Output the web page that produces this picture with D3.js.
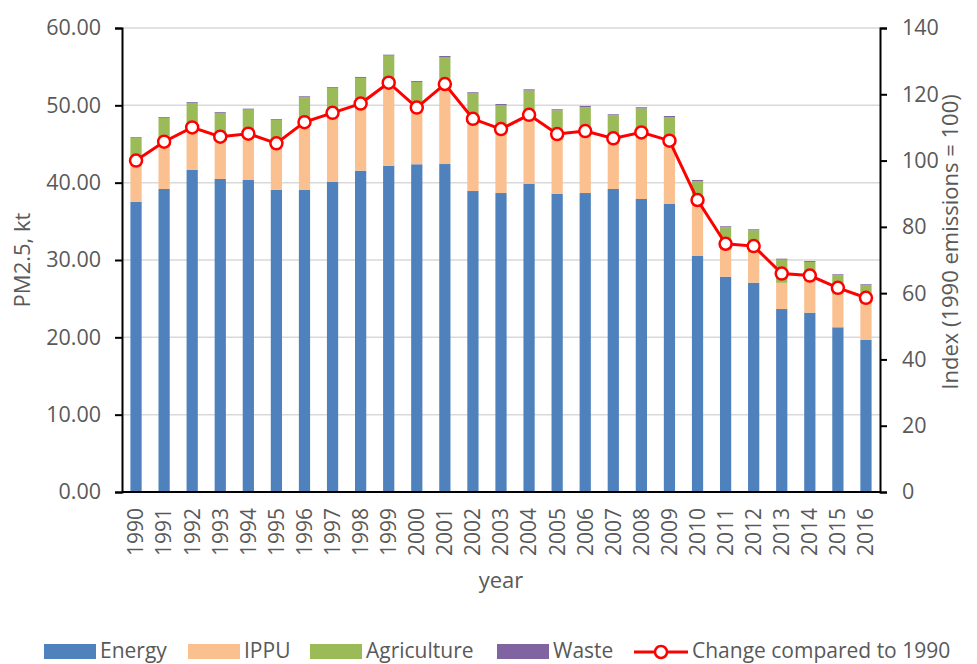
<!DOCTYPE html>
<html>
	<head>
		<title>PM2.5 emissions by sector</title>
		<style type="text/css">
			body{ margin: 0; background: #fff; }
			#chart text{ font-family: "Open Sans", sans-serif; fill: #595959; }
		</style>
	</head>
	<body>
		<div id="chart"></div>
	<script type="text/javascript" src="https://cdn.jsdelivr.net/npm/d3@7/dist/d3.min.js"></script>
	<script>
		var years = ['1990','1991','1992','1993','1994','1995','1996','1997','1998','1999','2000','2001','2002',
					'2003','2004','2005','2006','2007','2008','2009','2010','2011','2012','2013','2014','2015','2016'];

		var energy = [37.54, 39.18, 41.64, 40.48, 40.35, 39.09, 39.05, 40.09, 41.55, 42.20, 42.38, 42.41, 38.92,
					38.66, 39.87, 38.54, 38.66, 39.18, 37.89, 37.24, 30.52, 27.84, 27.07, 23.66, 23.19, 21.30, 19.66];
		var ippu = [5.03, 5.41, 5.19, 5.26, 5.60, 5.74, 8.60, 8.88, 8.80, 10.83, 7.55, 10.47, 9.32,
					8.36, 8.85, 7.82, 8.01, 6.63, 9.11, 8.75, 7.90, 3.50, 3.88, 3.39, 4.06, 4.23, 4.68];
		var agriculture = [3.2, 3.8, 3.5, 3.3, 3.5, 3.3, 3.4, 3.3, 3.2, 3.4, 3.1, 3.3, 3.3,
					3.0, 3.2, 3.0, 3.1, 2.9, 2.6, 2.5, 1.8, 2.9, 2.9, 3.0, 2.5, 2.5, 2.4];
		var waste = [0.10, 0.10, 0.10, 0.10, 0.12, 0.10, 0.12, 0.10, 0.12, 0.12, 0.12, 0.20, 0.15,
					0.15, 0.15, 0.13, 0.15, 0.13, 0.15, 0.13, 0.13, 0.12, 0.12, 0.12, 0.12, 0.12, 0.12];
		var change = [100, 105.7, 110.0, 107.2, 108.1, 105.2, 111.6, 114.4, 117.2, 123.5, 116.0, 123.1, 112.6,
					109.5, 113.8, 108.0, 108.9, 106.7, 108.5, 106.0, 88.1, 74.9, 74.2, 65.9, 65.3, 61.6, 58.6];

		var leftTicks = [0, 10, 20, 30, 40, 50, 60];
		var rightTicks = [0, 20, 40, 60, 80, 100, 120, 140];

		var series = [
			{ name : 'Energy', values : energy, color : '#4f81bd' },
			{ name : 'IPPU', values : ippu, color : '#fac090' },
			{ name : 'Agriculture', values : agriculture, color : '#9bbb59' },
			{ name : 'Waste', values : waste, color : '#8064a2' }
		];

		var W = 977, H = 664;
		var pLeft = 122, pRight = 880, pTop = 28, pBottom = 492;

		var svg = d3.select('#chart').append('svg')
				.attr('width', W).attr('height', H);

		var x = d3.scaleBand().domain(years).range([pLeft, pRight]).paddingInner(0.6).paddingOuter(0.3);
		var y = d3.scaleLinear().domain([0, 60]).range([pBottom, pTop]);
		var y2 = d3.scaleLinear().domain([0, 140]).range([pBottom, pTop]);

		// gridlines
		svg.append('g').selectAll('line')
			.data(leftTicks.slice(1))
			.enter().append('line')
			.attr('x1', pLeft).attr('x2', pRight)
			.attr('y1', function(d){ return y(d); })
			.attr('y2', function(d){ return y(d); })
			.style('stroke', '#d9d9d9')
			.style('stroke-width', 1.5);

		// stacked bars
		var rows = years.map(function(yr, i){
			var r = { year : yr };
			series.forEach(function(s){ r[s.name] = s.values[i]; });
			return r;
		});
		var stack = d3.stack().keys(series.map(function(s){ return s.name; }))(rows);

		svg.append('g').selectAll('g')
			.data(stack)
			.enter().append('g')
			.attr('fill', function(d, i){ return series[i].color; })
			.selectAll('rect')
			.data(function(d){ return d; })
			.enter().append('rect')
			.attr('x', function(d){ return x(d.data.year); })
			.attr('width', x.bandwidth())
			.attr('y', function(d){ return y(d[1]); })
			.attr('height', function(d){ return y(d[0]) - y(d[1]); });

		// left axis
		var ax = svg.append('g').attr('transform', 'translate(' + pLeft + ',0)')
			.call(d3.axisLeft(y).tickValues(leftTicks).tickFormat(d3.format('.2f')).tickSize(7).tickPadding(14));
		ax.select('.domain').style('stroke', '#000').style('stroke-width', 2);
		ax.selectAll('.tick line').style('stroke', '#000').style('stroke-width', 2);
		ax.selectAll('text').style('font-size', '21.5px').attr('fill', null);

		// right axis
		var ax2 = svg.append('g').attr('transform', 'translate(' + pRight + ',0)')
			.call(d3.axisRight(y2).tickValues(rightTicks).tickSize(7).tickPadding(15));
		ax2.select('.domain').style('stroke', '#000').style('stroke-width', 2);
		ax2.selectAll('.tick line').style('stroke', '#000').style('stroke-width', 2);
		ax2.selectAll('text').style('font-size', '21.5px').attr('fill', null);

		// bottom axis
		var ax3 = svg.append('g').attr('transform', 'translate(0,' + pBottom + ')')
			.call(d3.axisBottom(x).tickSize(0).tickPadding(0));
		ax3.select('.domain').attr('d', 'M' + pLeft + ',0H' + pRight).style('stroke', '#000').style('stroke-width', 2);
		ax3.selectAll('text')
			.attr('transform', 'rotate(-90)')
			.attr('x', -64).attr('y', 0).attr('dy', '0.35em')
			.style('text-anchor', 'start')
			.style('font-size', '21px').attr('fill', null);

		// index line
		var line = d3.line()
			.x(function(d, i){ return x(years[i]) + x.bandwidth() / 2; })
			.y(function(d){ return y2(d); });

		svg.append('path')
			.datum(change)
			.attr('d', line)
			.style('fill', 'none')
			.style('stroke', '#ff0000')
			.style('stroke-width', 3);

		svg.append('g').selectAll('circle')
			.data(change)
			.enter().append('circle')
			.attr('cx', function(d, i){ return x(years[i]) + x.bandwidth() / 2; })
			.attr('cy', function(d){ return y2(d); })
			.attr('r', 6)
			.style('fill', '#fff')
			.style('stroke', '#ff0000')
			.style('stroke-width', 2.5);

		// axis titles
		svg.append('text')
			.attr('transform', 'translate(30,' + ((pTop + pBottom) / 2) + ') rotate(-90)')
			.style('text-anchor', 'middle').style('font-size', '22px')
			.text('PM2.5, kt');
		svg.append('text')
			.attr('transform', 'translate(958,242) rotate(-90)')
			.style('text-anchor', 'middle').style('font-size', '22px')
			.text('Index (1990 emissions = 100)');
		svg.append('text')
			.attr('x', (pLeft + pRight) / 2).attr('y', 588)
			.style('text-anchor', 'middle').style('font-size', '22px')
			.text('year');

		// legend
		var legX = [44, 188, 310, 497];
		var lg = svg.append('g');
		series.forEach(function(s, i){
			lg.append('rect')
				.attr('x', legX[i]).attr('y', 644)
				.attr('width', 52).attr('height', 15)
				.attr('fill', s.color);
			lg.append('text')
				.attr('x', legX[i] + 56).attr('y', 651).attr('dy', '0.35em')
				.style('font-size', '21px')
				.text(s.name);
		});
		lg.append('line')
			.attr('x1', 634).attr('x2', 688).attr('y1', 652).attr('y2', 652)
			.style('stroke', '#ff0000').style('stroke-width', 3);
		lg.append('circle')
			.attr('cx', 661).attr('cy', 652).attr('r', 6)
			.style('fill', '#fff').style('stroke', '#ff0000').style('stroke-width', 2.5);
		lg.append('text')
			.attr('x', 692).attr('y', 651).attr('dy', '0.35em')
			.style('font-size', '21px')
			.text('Change compared to 1990');
	</script>
	</body>
</html>
